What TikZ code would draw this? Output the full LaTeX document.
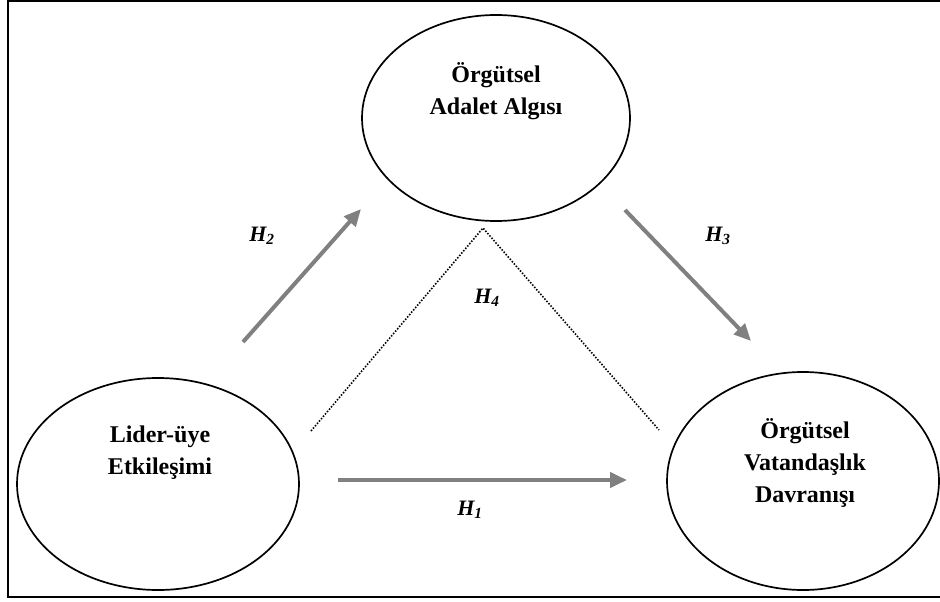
\documentclass[tikz,border=0pt]{standalone}
\usepackage{fontspec}
\setmainfont{Liberation Serif}
\usetikzlibrary{shapes.geometric, arrows.meta}
\tikzstyle{construct} = [ellipse, draw=black, line width=1.7pt, inner sep=0pt]
\tikzstyle{title} = [align=center, font=\fontsize{24}{32}\selectfont\bfseries]
\tikzstyle{hyp} = [font=\fontsize{22}{26}\selectfont\bfseries\itshape]
\tikzstyle{arrow} = [line width=4pt, draw=gray, -{Triangle[length=17pt,width=15pt]}]
\tikzstyle{dotline} = [line width=1.6pt, dash pattern=on 1.5pt off 1.6pt]

\begin{document}
\begin{tikzpicture}[x=1pt,y=-1pt]
      \useasboundingbox (0,0) rectangle (940,602);
      \draw [line width=1.8pt] (8,1) rectangle (948,597);

      \node (adalet) [construct, minimum width=268pt, minimum height=206pt] at (496,118) {};
      \node (adaletText) [title] at (496,91) {Örgütsel\\Adalet Algısı};
      \node (lider) [construct, minimum width=282pt, minimum height=212pt] at (158,484) {};
      \node (liderText) [title] at (160,453) {Lider-üye\\Etkileşimi};
      \node (ovd) [construct, minimum width=272pt, minimum height=218pt] at (803,481) {};
      \node (ovdText) [title] at (805,463) {Örgütsel\\Vatandaşlık\\Davranışı};

      % free ends of the paths
      \coordinate (h2a) at (243,342);
      \coordinate (h2b) at (361,209);
      \coordinate (h3a) at (625,210);
      \coordinate (h3b) at (751,341);
      \coordinate (h1a) at (338,480);
      \coordinate (h1b) at (627,480);
      \coordinate (h4l) at (311,431);
      \coordinate (h4top) at (483,228);
      \coordinate (h4r) at (659,430);

      \draw [arrow] (h2a) -- (h2b);
      \draw [arrow] (h3a) -- (h3b);
      \draw [arrow] (h1a) -- (h1b);
      \draw [dotline] (h4l) -- (h4top) -- (h4r);

      \node (H1) [hyp] at (470,510) {H\textsubscript{1}};
      \node (H2) [hyp] at (262,236) {H\textsubscript{2}};
      \node (H3) [hyp] at (718,236) {H\textsubscript{3}};
      \node (H4) [hyp] at (487,298) {H\textsubscript{4}};
    \end{tikzpicture}
\end{document}
